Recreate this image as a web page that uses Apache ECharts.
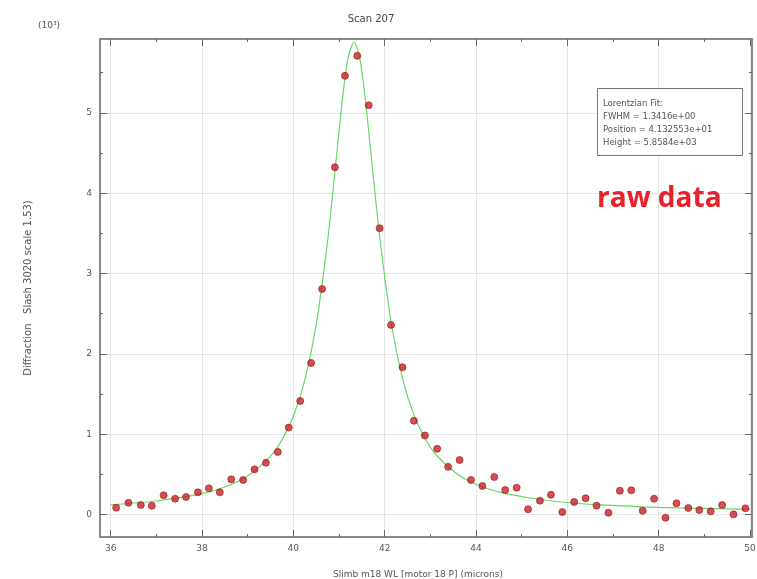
<!DOCTYPE html>
<html>
<head>
<meta charset="utf-8">
<script src="https://cdn.jsdelivr.net/npm/echarts@6/dist/echarts.min.js"></script>
<style>html,body{margin:0;padding:0;background:#fff;}#c{width:757px;height:579px;}</style>
</head>
<body>
<div id="c"></div>
<script>
// raw data points (x in microns, y in units of 10^3)
var rawX = [36.12,36.39,36.66,36.90,37.16,37.41,37.65,37.91,38.15,38.39,38.64,38.90,39.15,39.40,39.66,39.90,
  40.15,40.39,40.63,40.91,41.13,41.40,41.65,41.89,42.14,42.39,42.64,42.88,43.15,43.39,43.64,43.89,
  44.14,44.40,44.64,44.89,45.14,45.40,45.64,45.89,46.15,46.40,46.64,46.90,47.15,47.40,47.65,47.90,
  48.15,48.39,48.65,48.89,49.14,49.39,49.64,49.90];
var rawY = [0.085,0.147,0.118,0.110,0.239,0.197,0.218,0.276,0.326,0.276,0.438,0.429,0.562,0.644,0.779,1.082,
  1.414,1.887,2.808,4.324,5.461,5.710,5.096,3.564,2.360,1.833,1.167,0.984,0.818,0.594,0.678,0.430,
  0.355,0.467,0.305,0.334,0.065,0.172,0.246,0.031,0.156,0.202,0.110,0.022,0.296,0.301,0.047,0.197,
  -0.040,0.139,0.081,0.056,0.040,0.118,0.002,0.077];
// fitted curve
var fitX = [36.0,37.0,38.0,38.5,39.0,39.5,39.75,40.0,40.25,40.5,40.75,40.9,41.0,41.1,41.2,41.33,
  41.45,41.55,41.65,41.75,41.9,42.15,42.4,42.65,42.9,43.15,43.65,44.15,44.65,45.65,46.65,47.65,48.65,50.0];
var fitY = [0.121,0.168,0.259,0.343,0.480,0.727,0.929,1.224,1.670,2.360,3.404,4.207,4.771,5.293,5.690,5.886,
  5.693,5.298,4.777,4.213,3.409,2.363,1.673,1.226,0.930,0.728,0.480,0.343,0.259,0.168,0.122,0.095,0.079,0.065];
var xMajor = [36,38,40,42,44,46,48,50];
var xMinor = [37,39,41,43,45,47,49];
var yMajor = [0,1,2,3,4,5];
var yMinor = [0.5,1.5,2.5,3.5,4.5,5.5];
var fitText = ['Lorentzian Fit:','FWHM = 1.3416e+00','Position = 4.132553e+01','Height = 5.8584e+03'];

var XMIN = 35.766, XMAX = 50.044, YMIN = -0.28, YMAX = 5.92;

function ax(type, pos, vals, len, labels, extra){
  var a = {type:'value', position:pos, gridIndex:0,
    min:(type==='x'?XMIN:YMIN), max:(type==='x'?XMAX:YMAX),
    axisLine:{show:true, onZero:false, lineStyle:{color:'#888', width:2}},
    axisTick:{show:true, inside:true, length:len, customValues:vals, lineStyle:{color:'#666', width:1}},
    axisLabel:{show:!!labels, customValues:vals, color:'#555', fontSize:9, fontFamily:'DejaVu Sans', margin:(type==='x'?7:8)},
    splitLine:{show:false}};
  for (var k in extra) a[k] = extra[k];
  return a;
}

var chart = echarts.init(document.getElementById('c'));
chart.setOption({
  animation:false,
  backgroundColor:'#fff',
  title:{text:'Scan 207', left:366, top:9, textAlign:'center',
    textStyle:{fontSize:10, fontWeight:'normal', color:'#444', fontFamily:'DejaVu Sans'}},
  grid:{left:100, right:5, top:39, bottom:42, show:true, borderColor:'#888', borderWidth:1,
    containLabel:false, outerBoundsMode:'none'},
  xAxis:[
    ax('x','bottom', xMajor, 7, true, {name:'Slimb m18 WL [motor 18 P] (microns)', nameLocation:'middle', nameGap:33,
      nameTextStyle:{color:'#555', fontSize:9, fontFamily:'DejaVu Sans', padding:[0,16,0,0]},
      splitLine:{show:true, lineStyle:{color:'#e6e6e6', width:1}}}),
    ax('x','bottom', xMinor, 3, false, {}),
    ax('x','top', xMajor, 7, false, {}),
    ax('x','top', xMinor, 3, false, {})
  ],
  yAxis:[
    ax('y','left', yMajor, 7, true, {name:'Diffraction   Slash 3020 scale 1.53)', nameLocation:'middle', nameGap:67,
      nameRotate:90, nameTextStyle:{color:'#555', fontSize:10, fontFamily:'DejaVu Sans'},
      splitLine:{show:true, lineStyle:{color:'#e6e6e6', width:1}}}),
    ax('y','left', yMinor, 3, false, {}),
    ax('y','right', yMajor, 7, false, {}),
    ax('y','right', yMinor, 3, false, {})
  ],
  series:[
    {type:'line', name:'fit', xAxisIndex:0, yAxisIndex:0, data:fitX.map(function(x,i){return [x, fitY[i]];}),
      showSymbol:false, smooth:0.25, lineStyle:{color:'#66d866', width:1.2}, z:2, clip:true},
    {type:'scatter', name:'raw', xAxisIndex:0, yAxisIndex:0, data:rawX.map(function(x,i){return [x, rawY[i]];}),
      symbol:'circle', symbolSize:7, itemStyle:{color:'#c8222a', borderColor:'#9a1818', borderWidth:0.8}, z:3}
  ],
  graphic:[
    {type:'text', left:38, top:21, style:{text:'(10³)', fill:'#555', fontSize:9, fontFamily:'DejaVu Sans'}},
    {type:'rect', shape:{x:597.5, y:88.5, width:145, height:67}, style:{fill:'#fff', stroke:'#777', lineWidth:1}, z:10},
    {type:'text', left:603, top:97, z:11, style:{text:fitText.join('\n'), fill:'#555', fontSize:8.5, lineHeight:13, fontFamily:'DejaVu Sans'}},
    {type:'text', left:597, top:185, z:11, style:{text:'raw data', fill:'#e8212b', fontSize:28, fontWeight:'bold', fontFamily:'Open Sans'}}
  ]
});
</script>
</body>
</html>
